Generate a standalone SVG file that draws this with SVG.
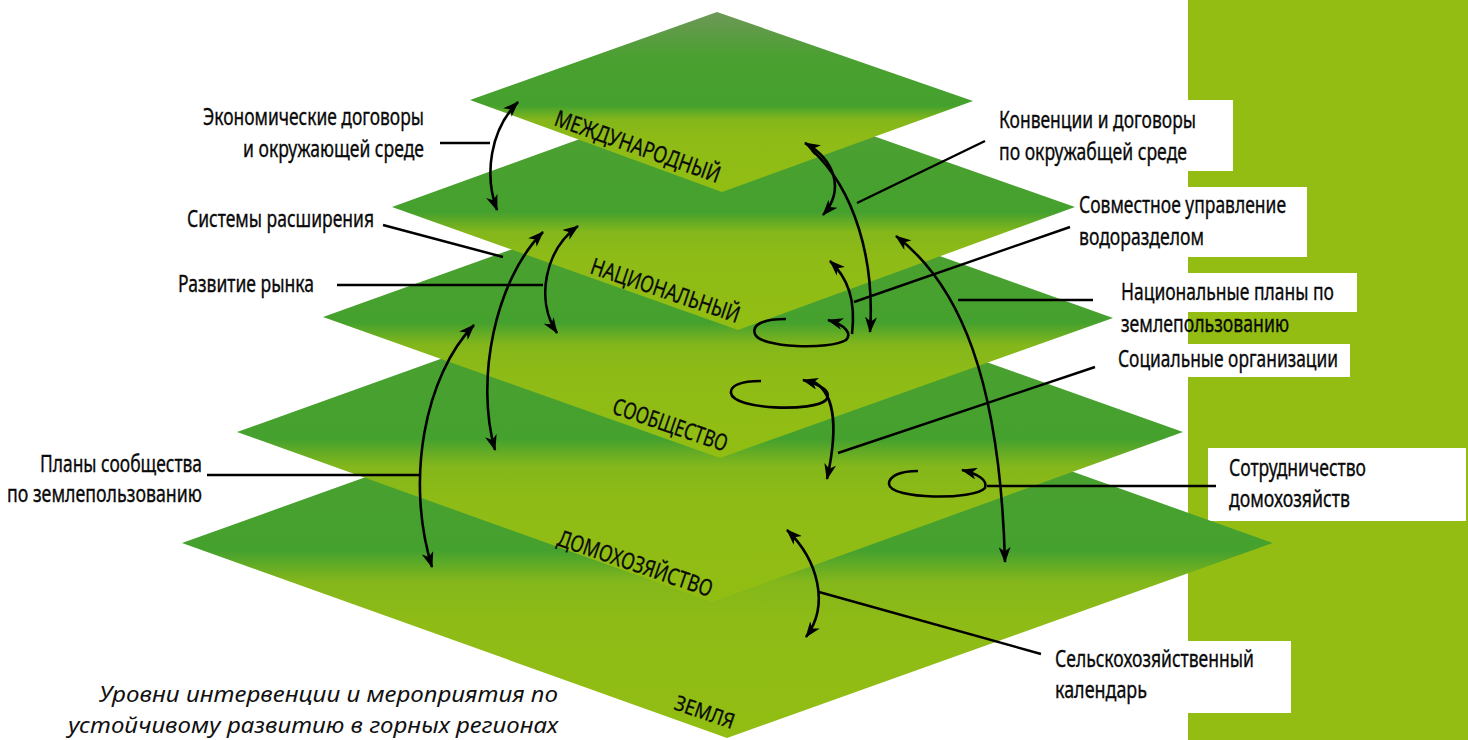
<svg xmlns="http://www.w3.org/2000/svg" width="1468" height="740" viewBox="0 0 1468 740">
<defs>
<linearGradient id="lg" x1="0" y1="0" x2="0" y2="1">
<stop offset="0" stop-color="#6E9858"/>
<stop offset="0.25" stop-color="#4AA030"/>
<stop offset="0.52" stop-color="#45A12E"/>
<stop offset="0.6" stop-color="#84B71B"/>
<stop offset="0.7" stop-color="#8EBB16"/>
<stop offset="1" stop-color="#92BE13"/>
</linearGradient>
<marker id="ah" viewBox="0 0 16 12" refX="15" refY="6" markerWidth="16" markerHeight="12" markerUnits="userSpaceOnUse" orient="auto-start-reverse">
<path d="M0,0 L16,6 L0,12 L4.5,6 Z" fill="#000"/>
</marker>
</defs>
<style>
.lbl{font-family:"Noto Sans","Liberation Sans",sans-serif;font-size:23px;fill:#0a0a0a;stroke:#0a0a0a;stroke-width:0.35}
.lvl{font-family:"Noto Sans","Liberation Sans",sans-serif;font-size:23px;fill:#0a0a0a;stroke:#0a0a0a;stroke-width:0.3}
.cap{font-family:"Noto Sans","Liberation Sans",sans-serif;font-style:italic;font-size:22px;fill:#111}
.ln{fill:none;stroke:#000;stroke-width:2.4}
.ar{fill:none;stroke:#000;stroke-width:2.6}
.box{fill:#fff}
.layer{fill:url(#lg)}
</style>

<rect id="side-bar" x="1188" y="0" width="280" height="740" fill="#93BD13"/>

<g id="label-boxes">
<rect class="box" x="1188" y="100" width="45" height="71"/>
<rect class="box" x="1188" y="187" width="119" height="70"/>
<rect class="box" x="1188" y="273" width="169" height="39"/>
<rect class="box" x="1188" y="344" width="162" height="33"/>
<rect class="box" x="1208" y="448" width="258" height="73"/>
<rect class="box" x="1188" y="641" width="103" height="72"/>
</g>

<g id="layer-earth">
<polygon class="layer" points="725,348 1273,543 727,738 182,543"/>
<text class="lvl" style="font-size:21px" transform="translate(673,709) rotate(19)" textLength="62" lengthAdjust="spacingAndGlyphs">ЗЕМЛЯ</text>
</g>
<g id="layer-household">
<polygon class="layer" points="708,263 1183,432 712,602 237,432"/>
<text class="lvl" transform="translate(556,545) rotate(18.8)" textLength="162" lengthAdjust="spacingAndGlyphs">ДОМОХОЗЯЙСТВО</text>
</g>
<g id="layer-community">
<polygon class="layer" points="716,176 1113,318 720,458 323,317"/>
<text class="lvl" transform="translate(611,413) rotate(18.9)" textLength="120" lengthAdjust="spacingAndGlyphs">СООБЩЕСТВО</text>
</g>
<g id="layer-national">
<polygon class="layer" points="729,85 1075,207 738,330 392,207"/>
<text class="lvl" transform="translate(589,273) rotate(18.7)" textLength="156" lengthAdjust="spacingAndGlyphs">НАЦИОНАЛЬНЫЙ</text>
</g>
<g id="layer-international">
<polygon class="layer" points="717,12 973,101 722,192 470,100"/>
<text class="lvl" transform="translate(553,125) rotate(19.5)" textLength="174" lengthAdjust="spacingAndGlyphs">МЕЖДУНАРОДНЫЙ</text>
</g>

<g id="connectors">
<line class="ln" x1="440" y1="143" x2="490" y2="143"/>
<line class="ln" x1="383" y1="225" x2="503" y2="257"/>
<line class="ln" x1="337" y1="285" x2="543" y2="285"/>
<line class="ln" x1="207" y1="475" x2="420" y2="475"/>
<line class="ln" x1="857" y1="203" x2="985" y2="141"/>
<line class="ln" x1="854" y1="302" x2="1070" y2="227"/>
<line class="ln" x1="958" y1="300" x2="1093" y2="300"/>
<line class="ln" x1="838" y1="453" x2="1095" y2="367"/>
<line class="ln" x1="987" y1="486" x2="1216" y2="486"/>
<line class="ln" x1="819" y1="592" x2="1041" y2="654"/>

<path class="ar" d="M518,102 C490,130 484,175 497,210" marker-start="url(#ah)" marker-end="url(#ah)"/>
<path class="ar" d="M578,226 C545,250 535,300 557,333" marker-start="url(#ah)" marker-end="url(#ah)"/>
<path class="ar" d="M543,232 C495,280 475,380 495,450" marker-start="url(#ah)" marker-end="url(#ah)"/>
<path class="ar" d="M474,325 C425,375 405,480 432,567" marker-start="url(#ah)" marker-end="url(#ah)"/>
<path class="ar" d="M805,143 C835,160 845,190 823,215" marker-start="url(#ah)" marker-end="url(#ah)"/>
<path class="ar" d="M812,150 C855,190 875,260 870,332" marker-end="url(#ah)"/>
<path class="ar" d="M896,236 C960,285 1000,380 1005,562" marker-start="url(#ah)" marker-end="url(#ah)"/>
<path class="ar" d="M786,319 C760,319 752,326 755,334 C760,348 830,350 846,340 C852,334 846,325 828,320" marker-end="url(#ah)"/>
<path class="ar" d="M852,334 C856,300 848,278 830,261" marker-end="url(#ah)"/>
<path class="ar" d="M761,381 C740,381 730,386 731,393 C733,410 815,412 826,400 C832,392 822,385 803,380" marker-end="url(#ah)"/>
<path class="ar" d="M812,381 C832,390 840,420 827,479" marker-end="url(#ah)"/>
<path class="ar" d="M918,471 C900,471 889,476 889,484 C890,500 975,500 985,488 C988,480 978,474 962,470" marker-end="url(#ah)"/>
<path class="ar" d="M787,530 C818,560 830,605 806,637" marker-start="url(#ah)" marker-end="url(#ah)"/>
</g>

<g id="label-econ">
<text class="lbl" x="203" y="125" textLength="221" lengthAdjust="spacingAndGlyphs">Экономические договоры</text>
<text class="lbl" x="243" y="157" textLength="181" lengthAdjust="spacingAndGlyphs">и окружающей среде</text>
</g>
<g id="label-ext">
<text class="lbl" x="187" y="227" textLength="187" lengthAdjust="spacingAndGlyphs">Системы расширения</text>
</g>
<g id="label-market">
<text class="lbl" x="178" y="292" textLength="136" lengthAdjust="spacingAndGlyphs">Развитие рынка</text>
</g>
<g id="label-plans">
<text class="lbl" x="40" y="472" textLength="162" lengthAdjust="spacingAndGlyphs">Планы сообщества</text>
<text class="lbl" x="7" y="502" textLength="195" lengthAdjust="spacingAndGlyphs">по землепользованию</text>
</g>
<g id="label-conv">
<text class="lbl" x="999" y="128" textLength="197" lengthAdjust="spacingAndGlyphs">Конвенции и договоры</text>
<text class="lbl" x="999" y="160" textLength="188" lengthAdjust="spacingAndGlyphs">по окружабщей среде</text>
</g>
<g id="label-water">
<text class="lbl" x="1079" y="213" textLength="207" lengthAdjust="spacingAndGlyphs">Совместное управление</text>
<text class="lbl" x="1079" y="245" textLength="125" lengthAdjust="spacingAndGlyphs">водоразделом</text>
</g>
<g id="label-natplans">
<text class="lbl" x="1121" y="300" textLength="213" lengthAdjust="spacingAndGlyphs">Национальные планы по</text>
<text class="lbl" x="1121" y="332" textLength="168" lengthAdjust="spacingAndGlyphs">землепользованию</text>
</g>
<g id="label-social">
<text class="lbl" x="1118" y="367" textLength="220" lengthAdjust="spacingAndGlyphs">Социальные организации</text>
</g>
<g id="label-coop">
<text class="lbl" x="1229" y="476" textLength="137" lengthAdjust="spacingAndGlyphs">Сотрудничество</text>
<text class="lbl" x="1229" y="507" textLength="121" lengthAdjust="spacingAndGlyphs">домохозяйств</text>
</g>
<g id="label-agri">
<text class="lbl" x="1055" y="667" textLength="199" lengthAdjust="spacingAndGlyphs">Сельскохозяйственный</text>
<text class="lbl" x="1055" y="698" textLength="92" lengthAdjust="spacingAndGlyphs">календарь</text>
</g>

<g id="caption">
<text class="cap" x="99" y="702" textLength="459" lengthAdjust="spacingAndGlyphs">Уровни интервенции и мероприятия по</text>
<text class="cap" x="68" y="733" textLength="490" lengthAdjust="spacingAndGlyphs">устойчивому развитию в горных регионах</text>
</g>
</svg>
